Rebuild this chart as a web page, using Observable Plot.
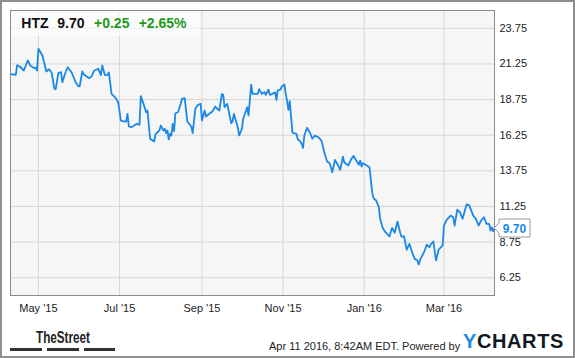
<!DOCTYPE html>
<html><head><meta charset="utf-8">
<script src="https://cdn.jsdelivr.net/npm/d3@7"></script>
<script src="https://cdn.jsdelivr.net/npm/@observablehq/plot@0.6"></script>
<style>
body{margin:0;background:#fff;}
#wrap{position:relative;width:575px;height:358px;overflow:hidden;font-family:"Liberation Sans",Arial,sans-serif;}
#wrap svg.overlay{position:absolute;left:0;top:0;pointer-events:none;}
#border{position:absolute;left:0;top:0;width:575px;height:358px;box-sizing:border-box;border:2px solid #8e8e8e;pointer-events:none;}
</style></head><body><div id="wrap"></div>
<script>
const dates = [
"2015-04-10","2015-04-14","2015-04-15","2015-04-17","2015-04-20","2015-04-23","2015-04-25","2015-04-28","2015-04-29","2015-04-30",
"2015-05-01","2015-05-04","2015-05-07","2015-05-09","2015-05-11","2015-05-13","2015-05-14","2015-05-16","2015-05-18","2015-05-19",
"2015-05-21","2015-05-23","2015-05-26","2015-05-29","2015-05-31","2015-06-01","2015-06-03","2015-06-04","2015-06-08","2015-06-10",
"2015-06-12","2015-06-15","2015-06-17","2015-06-18","2015-06-20","2015-06-22","2015-06-23","2015-06-25","2015-06-28","2015-06-30",
"2015-07-02","2015-07-05","2015-07-06","2015-07-07","2015-07-08","2015-07-10","2015-07-14","2015-07-16","2015-07-17","2015-07-19",
"2015-07-21","2015-07-22","2015-07-24","2015-07-27","2015-07-28","2015-07-31","2015-08-01","2015-08-03","2015-08-04","2015-08-05",
"2015-08-06","2015-08-07","2015-08-08","2015-08-09","2015-08-10","2015-08-11","2015-08-12","2015-08-14","2015-08-16","2015-08-17",
"2015-08-19","2015-08-21","2015-08-24","2015-08-25","2015-08-27","2015-08-29","2015-08-31","2015-09-01","2015-09-03","2015-09-04",
"2015-09-07","2015-09-09","2015-09-11","2015-09-12","2015-09-14","2015-09-16","2015-09-17","2015-09-18","2015-09-20","2015-09-23",
"2015-09-24","2015-09-25","2015-09-28","2015-09-29","2015-10-01","2015-10-02","2015-10-05","2015-10-06","2015-10-08","2015-10-09",
"2015-10-12","2015-10-13","2015-10-14","2015-10-16","2015-10-18","2015-10-19","2015-10-21","2015-10-22","2015-10-24","2015-10-26",
"2015-10-27","2015-10-28","2015-10-30","2015-10-31","2015-11-02","2015-11-03","2015-11-04","2015-11-05","2015-11-06","2015-11-08",
"2015-11-09","2015-11-11","2015-11-12","2015-11-14","2015-11-15","2015-11-16","2015-11-17","2015-11-19","2015-11-21","2015-11-23",
"2015-11-25","2015-11-28","2015-11-30","2015-12-02","2015-12-04","2015-12-06","2015-12-07","2015-12-08","2015-12-10","2015-12-12",
"2015-12-14","2015-12-16","2015-12-17","2015-12-20","2015-12-22","2015-12-24","2015-12-26","2015-12-28","2015-12-29","2015-12-30",
"2015-12-31","2016-01-02","2016-01-05","2016-01-07","2016-01-08","2016-01-10","2016-01-12","2016-01-13","2016-01-15","2016-01-17",
"2016-01-20","2016-01-22","2016-01-24","2016-01-26","2016-01-28","2016-01-29","2016-01-31","2016-02-02","2016-02-04","2016-02-06",
"2016-02-08","2016-02-10","2016-02-11","2016-02-12","2016-02-15","2016-02-17","2016-02-19","2016-02-20","2016-02-22","2016-02-24",
"2016-02-26","2016-02-29","2016-03-01","2016-03-03","2016-03-06","2016-03-08","2016-03-09","2016-03-11","2016-03-13","2016-03-15",
"2016-03-18","2016-03-20","2016-03-23","2016-03-25","2016-03-27","2016-03-29","2016-03-31","2016-04-02","2016-04-04","2016-04-05",
"2016-04-06","2016-04-07","2016-04-08"
];
const prices = [
20.53,20.49,21.16,21.07,20.79,21.49,21.12,20.95,20.98,20.79,
22.31,21.84,20.72,20.88,20.63,19.50,19.48,20.63,20.67,19.97,
20.56,21.02,20.65,19.97,19.69,19.67,20.72,20.53,20.25,20.37,
20.79,20.91,20.46,21.14,20.46,20.49,20.65,19.15,18.87,18.56,
17.28,17.21,17.21,17.75,16.86,16.81,17.05,16.98,18.99,18.45,
17.86,17.98,16.00,15.81,16.30,16.58,16.93,16.58,16.70,16.39,
16.58,15.95,16.35,16.23,17.05,16.53,17.79,17.86,18.45,18.80,
18.85,17.21,16.86,16.39,18.10,18.38,18.45,17.28,17.98,17.56,
17.79,17.93,18.26,18.14,17.98,19.15,19.08,18.21,18.45,17.09,
17.21,17.75,16.77,16.23,16.70,17.40,18.21,17.63,19.79,19.15,
19.15,19.15,19.48,19.15,19.27,19.08,19.44,19.08,19.15,19.27,
18.73,19.39,19.44,19.67,19.81,19.15,18.64,18.03,18.64,16.46,
16.39,16.35,15.98,15.80,15.64,15.36,16.23,16.77,16.46,16.00,
16.23,16.07,15.83,15.06,14.42,14.28,14.00,13.65,14.52,14.19,
13.82,14.75,14.35,14.12,14.52,14.80,14.47,14.17,14.47,14.05,
14.28,14.17,14.00,12.25,11.83,11.67,11.20,10.38,9.72,9.44,
9.14,9.75,9.40,10.19,9.44,9.14,9.14,8.21,8.63,8.04,
7.57,7.46,7.18,7.50,8.04,8.56,8.39,8.58,8.79,7.46,
8.21,8.51,9.91,10.31,10.61,10.49,9.91,11.02,10.85,10.38,
11.39,11.32,10.61,10.38,9.91,10.26,10.49,10.03,10.03,9.56,
9.79,9.51,9.70
];
const yTicks = [6.25, 8.75, 11.25, 13.75, 16.25, 18.75, 21.25, 23.75];
const xTickDates = ["2015-05-01","2015-07-01","2015-09-01","2015-11-01","2016-01-01","2016-03-01"];
const xTickLabels = ["May '15","Jul '15","Sep '15","Nov '15","Jan '16","Mar '16"];
const xDomain = ["2015-04-10","2016-04-08"];
const yDomain = [5, 25];
const ticker = "HTZ", lastPriceText = "9.70", changeText = "+0.25", changePctText = "+2.65%";
const stampText = "Apr 11 2016, 8:42AM EDT. Powered by";
const sourceText = "TheStreet";

const FONT = '"Liberation Sans", Arial, sans-serif';
const LINE = "#1b88e8";
const toDate = s => new Date(s + "T00:00:00Z");
const data = dates.map((d, i) => ({date: toDate(d), price: prices[i]}));
const xt = xTickDates.map(toDate);

const plot = Plot.plot({
  width: 575, height: 358,
  marginLeft: 10, marginRight: 81, marginTop: 10, marginBottom: 63,
  style: {fontFamily: FONT, fontSize: "11px", color: "#222", background: "transparent"},
  x: {type: "utc", domain: xDomain.map(toDate)},
  y: {domain: yDomain},
  marks: [
    Plot.frame({fill: "#f6f6f6"}),
    Plot.gridX(xt, {stroke: "#d6d6d6", strokeOpacity: 1}),
    Plot.gridY(yTicks, {stroke: "#d6d6d6", strokeOpacity: 1}),
    Plot.line(data, {x: "date", y: "price", stroke: LINE, strokeWidth: 1.8}),
    Plot.frame({stroke: "#8a8a8a"}),
    Plot.axisX(xt, {tickSize: 0, tickPadding: 9, label: null,
      tickFormat: d => xTickLabels[xt.findIndex(t => +t === +d)]}),
    Plot.axisY(yTicks, {anchor: "right", tickSize: 0, tickPadding: 5, label: null,
      tickFormat: d => d.toFixed(2)})
  ]
});
const wrap = document.getElementById("wrap");
wrap.appendChild(plot);

// overlay: header, price tag, footer
const sx = plot.scale("x"), sy = plot.scale("y");
const last = data[data.length - 1];
const tipX = sx.apply(last.date), tipY = sy.apply(last.price);

const svg = d3.select(wrap).append("svg").attr("class", "overlay")
  .attr("width", 575).attr("height", 358).style("font-family", FONT);

// header box
svg.append("rect").attr("x", 11).attr("y", 11).attr("width", 189).attr("height", 25)
  .attr("fill", "#fff").attr("fill-opacity", 0.6);
const hdr = [[ticker, 21.3, "#111"], [lastPriceText, 57.3, "#111"], [changeText, 94, "#1d9a1d"], [changePctText, 138.7, "#1d9a1d"]];
hdr.forEach(([t, x, c]) => svg.append("text").attr("x", x).attr("y", 28.3)
  .attr("font-size", 14).attr("font-weight", "bold").attr("fill", c).text(t));

// price tag
const bx = tipX + 5, bw = 31, bh = 18;
svg.append("path")
  .attr("d", `M${tipX},${tipY} L${bx},${tipY - 5} L${bx},${tipY - bh / 2} L${bx + bw},${tipY - bh / 2} L${bx + bw},${tipY + bh / 2} L${bx},${tipY + bh / 2} L${bx},${tipY + 5} Z`)
  .attr("fill", "#fff").attr("stroke", "#9a9a9a").attr("stroke-width", 1);
svg.append("text").attr("x", bx + bw / 2).attr("y", tipY + 4.5).attr("text-anchor", "middle")
  .attr("font-size", 12).attr("font-weight", "bold").attr("fill", LINE).text(lastPriceText);

// footer: TheStreet
svg.append("text").attr("x", 36).attr("y", 343).attr("font-size", 16).attr("font-weight", "bold")
  .attr("textLength", 54).attr("lengthAdjust", "spacingAndGlyphs")
  .attr("fill", "#222").text(sourceText);
[[10, 32], [47, 32], [84, 31]].forEach(([x, w]) =>
  svg.append("rect").attr("x", x).attr("y", 348).attr("width", w).attr("height", 3).attr("fill", "#333"));

// footer: timestamp + YCHARTS
svg.append("text").attr("x", 269).attr("y", 349.5).attr("font-size", 11).attr("fill", "#222").text(stampText);
const yc = svg.append("text").attr("x", 463).attr("y", 348.3).attr("font-size", 20).attr("font-weight", "bold")
  .attr("letter-spacing", 0.6);
yc.append("tspan").attr("fill", "#1a8be0").text("Y");
yc.append("tspan").attr("fill", "#111a24").text("CHARTS");

const border = document.createElement("div");
border.id = "border";
wrap.appendChild(border);
</script>
</body></html>
